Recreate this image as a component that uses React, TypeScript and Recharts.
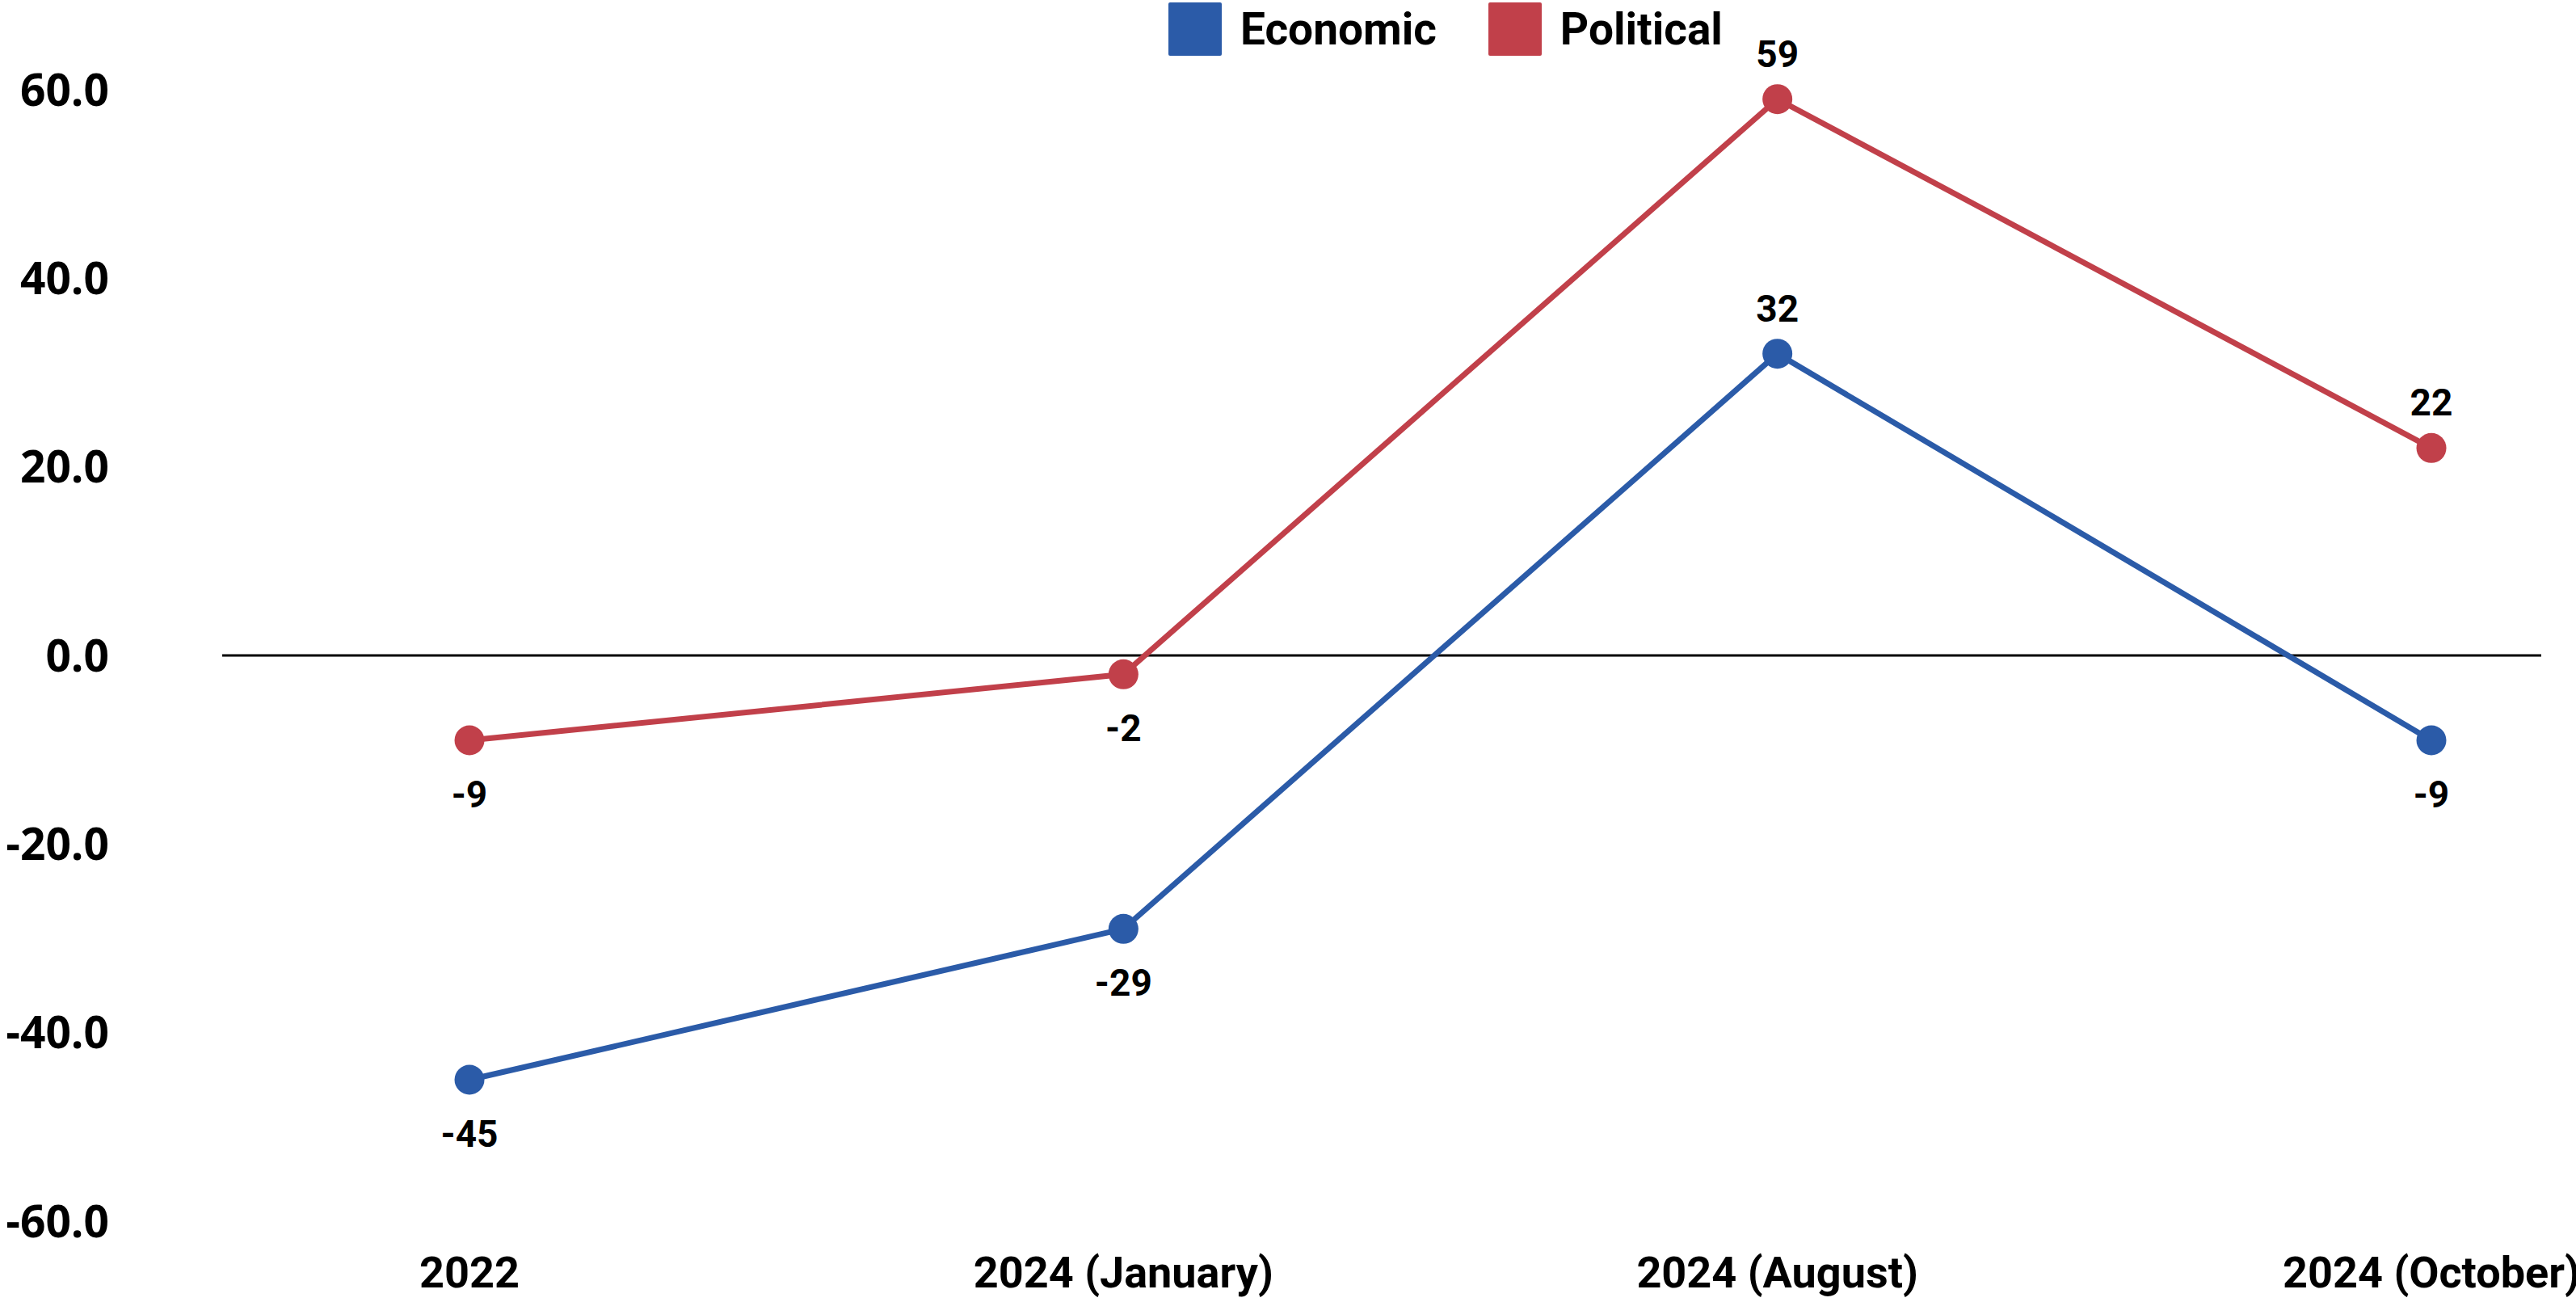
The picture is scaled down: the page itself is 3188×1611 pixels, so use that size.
import React from 'react';
import { LineChart, Line, XAxis, YAxis, ReferenceLine, LabelList, Legend } from 'recharts';

const categories = ['2022', '2024 (January)', '2024 (August)', '2024 (October)'];
const economic = [-45, -29, 32, -9];
const political = [-9, -2, 59, 22];
const yTicks = [-60, -40, -20, 0, 20, 40, 60];
const seriesNames = ['Economic', 'Political'];
const seriesColors = ['#2B5BA8', '#C1404A'];

const data = categories.map((c, i) => ({ name: c, economic: economic[i], political: political[i] }));

const ValueLabel = (props: any) => {
  const { x, y, value } = props;
  const dy = value < 0 ? 83 : -40;
  return (
    <text x={x} y={y + dy} textAnchor="middle" fontFamily="Roboto" fontWeight={700} fontSize={46} fill="#000">
      {value}
    </text>
  );
};

const LegendContent = () => (
  <div style={{ display: 'flex', alignItems: 'center', marginLeft: 1446, marginTop: 3, height: 66 }}>
    {seriesNames.map((n, i) => (
      <div key={n} style={{ display: 'flex', alignItems: 'center', marginRight: i === 0 ? 64 : 0 }}>
        <div style={{ width: 66, height: 66, background: seriesColors[i], borderRadius: 2 }} />
        <span style={{ marginLeft: 23, fontFamily: 'Roboto', fontWeight: 700, fontSize: 55, color: '#000', lineHeight: '66px' }}>{n}</span>
      </div>
    ))}
  </div>
);

export default function App() {
  return (
    <div style={{ position: 'absolute', left: 0, top: 0, width: 3188, height: 1611, overflow: 'hidden', background: '#fff' }}>
      <LineChart width={3188} height={1611} data={data} margin={{ top: 111, right: 43, bottom: 40, left: 0 }}>
        <Legend
          layout="horizontal"
          verticalAlign="middle"
          align="center"
          content={<LegendContent />}
          wrapperStyle={{ top: 0, left: 0, width: 3188, height: 72 }}
        />
        <XAxis
          dataKey="name"
          height={60}
          axisLine={false}
          tickLine={false}
          tickSize={0}
          tickMargin={44}
          padding={{ left: 306, right: 136 }}
          interval={0}
          tick={{ fontFamily: 'Roboto', fontWeight: 700, fontSize: 54, fill: '#000' }}
        />
        <YAxis
          width={275}
          domain={[-60, 60]}
          ticks={yTicks}
          axisLine={false}
          tickLine={false}
          tickSize={0}
          tickMargin={140}
          tickFormatter={(v: number) => v.toFixed(1)}
          tick={{ fontFamily: 'Open Sans', fontWeight: 700, fontSize: 55, fill: '#000' }}
        />
        <ReferenceLine y={0} stroke="#000" strokeWidth={3} />
        <Line
          dataKey="economic"
          name="Economic"
          stroke={seriesColors[0]}
          strokeWidth={7}
          dot={{ r: 18.5, fill: seriesColors[0], stroke: 'none' }}
          activeDot={false}
          isAnimationActive={false}
        >
          <LabelList dataKey="economic" content={<ValueLabel />} />
        </Line>
        <Line
          dataKey="political"
          name="Political"
          stroke={seriesColors[1]}
          strokeWidth={7}
          dot={{ r: 18.5, fill: seriesColors[1], stroke: 'none' }}
          activeDot={false}
          isAnimationActive={false}
        >
          <LabelList dataKey="political" content={<ValueLabel />} />
        </Line>
      </LineChart>
    </div>
  );
}
